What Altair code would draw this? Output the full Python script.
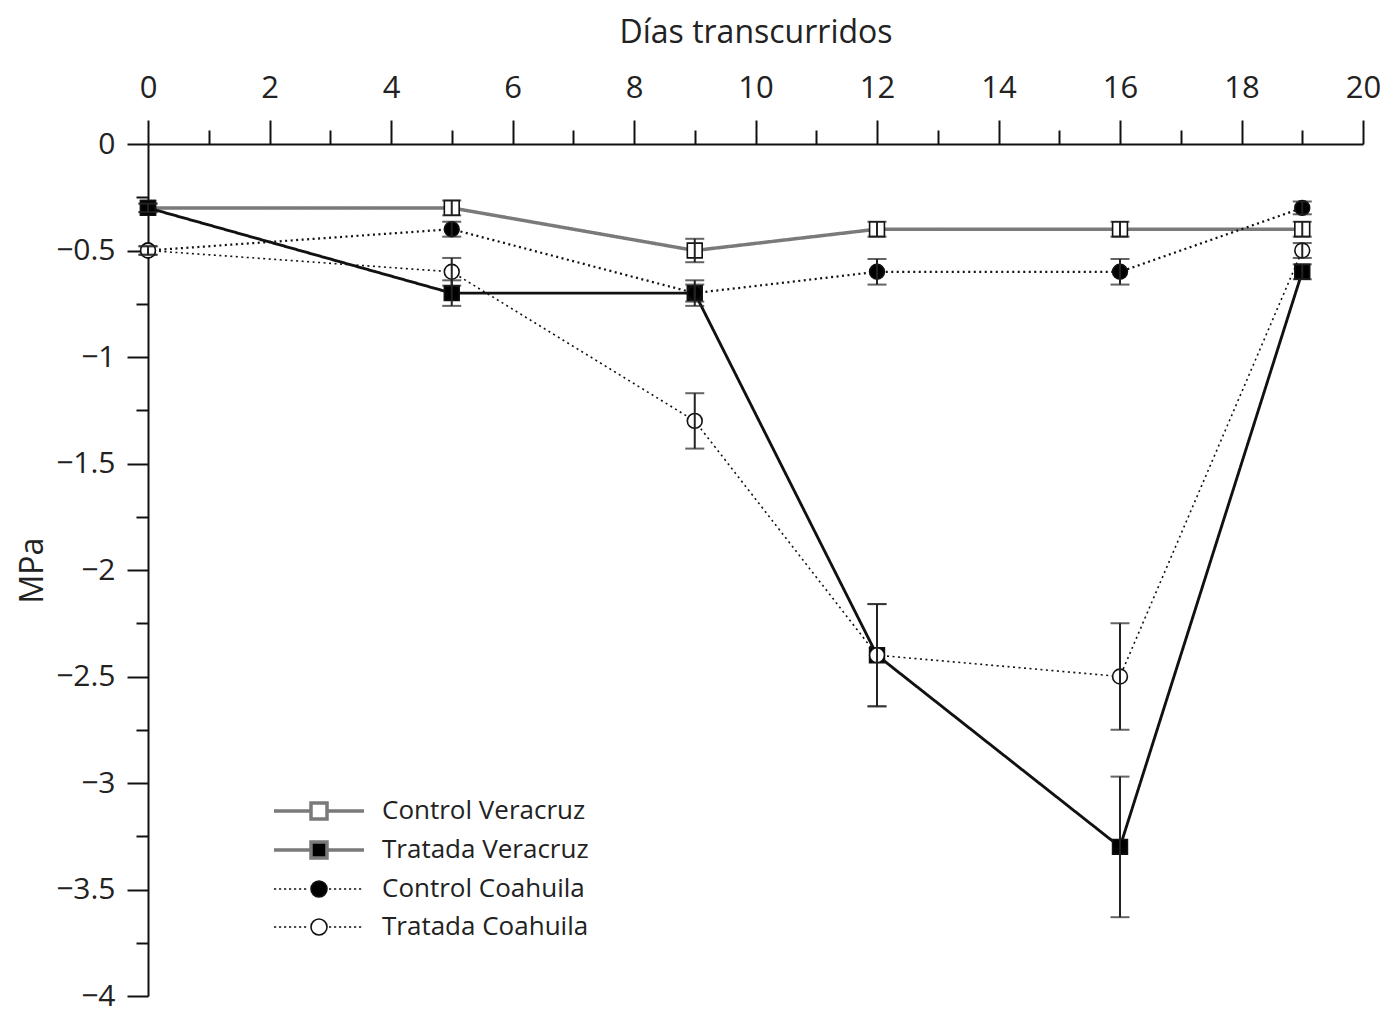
import altair as alt
import pandas as pd

# ---------------- data ----------------
dias = [0, 5, 9, 12, 16, 19]
series = ["Control Veracruz", "Tratada Veracruz", "Control Coahuila", "Tratada Coahuila"]

control_veracruz = [-0.3, -0.3, -0.5, -0.4, -0.4, -0.4]
control_veracruz_err = [0.02, 0.035, 0.055, 0.035, 0.035, 0.035]
tratada_veracruz = [-0.3, -0.7, -0.7, -2.4, -3.3, -0.6]
tratada_veracruz_err = [0.02, 0.06, 0.06, 0.24, 0.33, 0.035]
control_coahuila = [-0.5, -0.4, -0.7, -0.6, -0.6, -0.3]
control_coahuila_err = [0.02, 0.035, 0.04, 0.06, 0.06, 0.03]
tratada_coahuila = [-0.5, -0.6, -1.3, -2.4, -2.5, -0.5]
tratada_coahuila_err = [0.02, 0.065, 0.13, 0.24, 0.25, 0.035]

x_ticks = [0, 1, 2, 3, 4, 5, 6, 7, 8, 9, 10, 11, 12, 13, 14, 15, 16, 17, 18, 19, 20]
y_ticks = [0, -0.25, -0.5, -0.75, -1, -1.25, -1.5, -1.75, -2, -2.25, -2.5,
           -2.75, -3, -3.25, -3.5, -3.75, -4]

values = {
    "Control Veracruz": (control_veracruz, control_veracruz_err),
    "Tratada Veracruz": (tratada_veracruz, tratada_veracruz_err),
    "Control Coahuila": (control_coahuila, control_coahuila_err),
    "Tratada Coahuila": (tratada_coahuila, tratada_coahuila_err),
}
rows = []
for s in series:
    v, e = values[s]
    for d, vv, ee in zip(dias, v, e):
        rows.append({"serie": s, "dia": d, "valor": vv, "err": ee})
df = pd.DataFrame(rows)

# ---------------- styles ----------------
FONT = "Open Sans"
line_colors = ["#7a7a7a", "#111111", "#111111", "#111111"]
line_widths = [3.5, 1.6, 1.8, 1.8]
line_dashes = [[1, 0], [1, 0], [2, 3.5], [2, 3.5]]
shapes = ["square", "square", "circle", "circle"]
fills = ["white", "black", "black", "white"]

# custom legend symbols (line + marker), unit = sqrt(size)/2 px
L = 4.5
m = 0.8


def solid(a, b):
    return f"M{a:.2f},0H{b:.2f}"


def dotted(a, b, period=0.5, dash=0.22):
    parts = []
    x = a
    while x + dash <= b + 1e-9:
        parts.append(f"M{x:.2f},0H{x + dash:.2f}")
        x += period
    return "".join(parts)


sq = f"M{-m},{-m}H{m}V{m}H{-m}Z"
ci = f"M{m},0A{m},{m} 0 1,1 {-m},0A{m},{m} 0 1,1 {m},0Z"
square_path = solid(-L, -m) + solid(m, L) + sq
circle_path = dotted(-L, -m) + dotted(m + 0.2, L) + ci

xscale = alt.Scale(domain=[0, 20], nice=False, zero=False)
yscale = alt.Scale(domain=[-4, 0], nice=False)

x_axis = alt.Axis(
    orient="top", values=x_ticks, title="Días transcurridos",
    labelExpr="datum.value % 2 == 0 ? datum.label : ''",
    tickSize={"condition": {"test": "datum.value % 2 == 1", "value": 14}, "value": 24},
    labelFlush=False, grid=False, labelPadding=16, titlePadding=23,
)
y_axis = alt.Axis(
    values=y_ticks, title="MPa", format="~g",
    labelExpr="abs(datum.value * 2 - round(datum.value * 2)) < 0.001 ? datum.label : ''",
    tickSize={"condition": {"test": "abs(datum.value * 2 - round(datum.value * 2)) > 0.001",
                            "value": 12}, "value": 21},
    labelFlush=False, grid=False, labelPadding=12, titlePadding=6, labelFontSize=30,
)

base = alt.Chart(df)

lines = base.mark_line().encode(
    x=alt.X("dia:Q", scale=xscale, axis=x_axis),
    y=alt.Y("valor:Q", scale=yscale, axis=y_axis),
    color=alt.Color("serie:N", scale=alt.Scale(domain=series, range=line_colors), legend=None),
    strokeWidth=alt.StrokeWidth("serie:N", scale=alt.Scale(domain=series, range=line_widths), legend=None),
    strokeDash=alt.StrokeDash("serie:N", scale=alt.Scale(domain=series, range=line_dashes), legend=None),
    detail="serie:N",
    order="dia:Q",
)

points = base.mark_point(filled=True, stroke="#111111", strokeWidth=1.6, opacity=1).encode(
    x=alt.X("dia:Q", scale=xscale, axis=x_axis),
    y=alt.Y("valor:Q", scale=yscale, axis=y_axis),
    shape=alt.Shape("serie:N", scale=alt.Scale(domain=series, range=shapes), legend=None),
    fill=alt.Fill("serie:N", scale=alt.Scale(domain=series, range=fills), legend=None),
    size=alt.Size("serie:N", scale=alt.Scale(domain=series, range=[220, 220, 220, 230]), legend=None),
)

err_base = base.transform_calculate(
    lo="datum.valor - datum.err", hi="datum.valor + datum.err"
)
err_rule = err_base.mark_rule(color="#222222", strokeWidth=2).encode(
    x=alt.X("dia:Q", scale=xscale, axis=x_axis),
    y=alt.Y("lo:Q", scale=yscale, axis=y_axis),
    y2="hi:Q",
)
cap_lo = err_base.mark_tick(orient="horizontal", color="#222222", size=19, thickness=2).encode(
    x=alt.X("dia:Q", scale=xscale, axis=x_axis),
    y=alt.Y("lo:Q", scale=yscale, axis=y_axis),
)
cap_hi = err_base.mark_tick(orient="horizontal", color="#222222", size=19, thickness=2).encode(
    x=alt.X("dia:Q", scale=xscale, axis=x_axis),
    y=alt.Y("hi:Q", scale=yscale, axis=y_axis),
)


def legend_block(names, path, fill_range, stroke_color, stroke_width, y, row_pad):
    leg = alt.Legend(
        title=None, orient="none", legendX=158, legendY=y, padding=0,
        symbolSize=400, labelFont=FONT, labelFontSize=26, labelColor="#222222",
        labelOffset=50, rowPadding=row_pad, symbolOffset=0, labelLimit=0,
        symbolStrokeWidth=stroke_width, symbolOpacity=1,
    )
    ldf = pd.DataFrame({"leyenda": names})
    return alt.Chart(ldf).transform_filter("false").mark_point(
        filled=True, opacity=1, stroke=stroke_color, strokeWidth=stroke_width
    ).encode(
        shape=alt.Shape("leyenda:N", scale=alt.Scale(domain=names, range=[path, path]), legend=leg),
        fill=alt.Fill("leyenda:N", scale=alt.Scale(domain=names, range=fill_range), legend=leg),
    )


legend_v = legend_block(series[:2], square_path, ["white", "black"], "#7a7a7a", 3.5, 654, 9)
legend_c = legend_block(series[2:], circle_path, ["black", "white"], "#111111", 1.6, 732, 12)

chart = alt.layer(lines, points, err_rule, cap_lo, cap_hi, legend_v, legend_c).resolve_scale(
    shape="independent", fill="independent"
).properties(
    width=1215, height=852,
    autosize=alt.AutoSizeParams(type="none"),
    padding={"left": 140, "top": 136, "right": 17, "bottom": 12},
    background="white",
).configure_view(stroke=None).configure_axis(
    labelFont=FONT, titleFont=FONT, labelFontSize=31, titleFontSize=32,
    labelColor="#222222", titleColor="#222222", titleFontWeight="normal",
    domainColor="#111111", domainWidth=2, tickColor="#111111", tickWidth=2,
)

chart.save("out.html", embed_options={"renderer": "svg", "actions": False})
